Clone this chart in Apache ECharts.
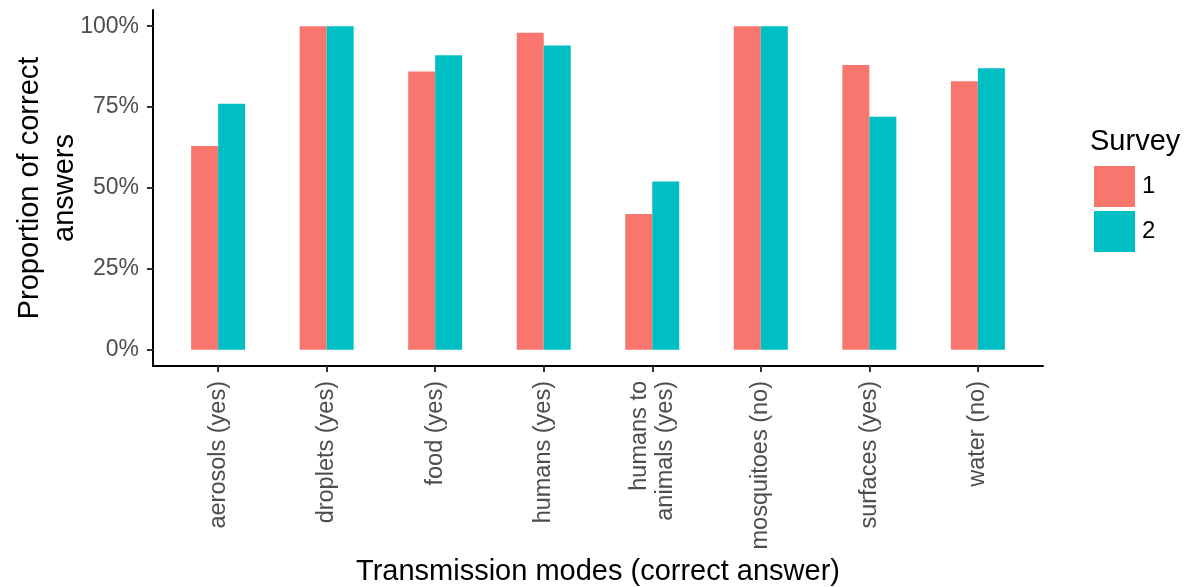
<!DOCTYPE html>
<html>
<head>
<meta charset="utf-8">
<script src="https://cdn.jsdelivr.net/npm/echarts@6/dist/echarts.min.js"></script>
<style>
  html, body { margin: 0; padding: 0; background: #fff; }
  #chart { width: 1184px; height: 587px; }
</style>
</head>
<body>
<div id="chart"></div>
<script>
// transmission modes on the x axis
var modes = ['aerosols (yes)', 'droplets (yes)', 'food (yes)', 'humans (yes)',
  'humans to\nanimals (yes)', 'mosquitoes (no)', 'surfaces (yes)', 'water (no)'];
// proportion of correct answers
var survey1 = [0.63, 1.00, 0.86, 0.98, 0.42, 1.00, 0.88, 0.83];
var survey2 = [0.76, 1.00, 0.91, 0.94, 0.52, 1.00, 0.72, 0.87];
var surveyNames = ['1', '2'];
var yTicks = [0, 0.25, 0.5, 0.75, 1];

var font = 'Liberation Sans, Arial, sans-serif';
var modeIdx = modes.map(function (m, i) { return i; });

function pairs(vals) {
  return vals.map(function (v, i) { return [i, v]; });
}

var chart = echarts.init(document.getElementById('chart'));
chart.setOption({
  animation: false,
  textStyle: { fontFamily: font },
  title: {
    text: 'Survey',
    left: 1085,
    top: 122,
    textStyle: { fontFamily: font, fontSize: 29, fontWeight: 'normal', color: '#000' }
  },
  legend: {
    orient: 'vertical',
    left: 1089,
    top: 161,
    itemWidth: 41,
    itemHeight: 41,
    itemGap: 4,
    icon: 'rect',
    data: surveyNames,
    textStyle: { fontFamily: font, fontSize: 24, color: '#000', padding: [0, 0, 0, 2] }
  },
  grid: { left: 153, right: 141, top: 10, bottom: 221, outerBoundsMode: 'none' },
  xAxis: {
    type: 'value',
    min: -0.6,
    max: 7.6,
    name: 'Transmission modes (correct answer)',
    nameLocation: 'middle',
    nameGap: 191,
    nameMoveOverlap: false,
    nameTextStyle: { fontFamily: font, fontSize: 29, color: '#000' },
    splitLine: { show: false },
    axisLine: { show: true, onZero: false, lineStyle: { color: '#000', width: 2 } },
    axisTick: { show: true, length: 6, customValues: modeIdx, lineStyle: { color: '#333', width: 2 } },
    axisLabel: {
      customValues: modeIdx,
      rotate: 90,
      margin: 15,
      fontSize: 23.5,
      lineHeight: 26,
      color: '#4D4D4D',
      formatter: function (v) { return modes[Math.round(v)]; }
    }
  },
  yAxis: {
    type: 'value',
    min: -0.05,
    max: 1.05,
    name: 'Proportion of correct\nanswers',
    nameLocation: 'middle',
    nameGap: 71,
    nameMoveOverlap: false,
    nameRotate: 90,
    nameTextStyle: { fontFamily: font, fontSize: 29, color: '#000', lineHeight: 35 },
    splitLine: { show: false },
    axisLine: { show: true, onZero: false, lineStyle: { color: '#000', width: 2 } },
    axisTick: { show: true, length: 6, customValues: yTicks, lineStyle: { color: '#333', width: 2 } },
    axisLabel: {
      customValues: yTicks,
      margin: 14,
      fontSize: 23,
      color: '#4D4D4D',
      formatter: function (v) { return Math.round(v * 100) + '%'; }
    }
  },
  series: [
    {
      name: surveyNames[0],
      type: 'bar',
      barWidth: 27,
      barGap: '0%',
      itemStyle: { color: '#F8766D' },
      data: pairs(survey1)
    },
    {
      name: surveyNames[1],
      type: 'bar',
      barWidth: 27,
      barGap: '0%',
      itemStyle: { color: '#00BFC4' },
      data: pairs(survey2)
    }
  ]
});
</script>
</body>
</html>
